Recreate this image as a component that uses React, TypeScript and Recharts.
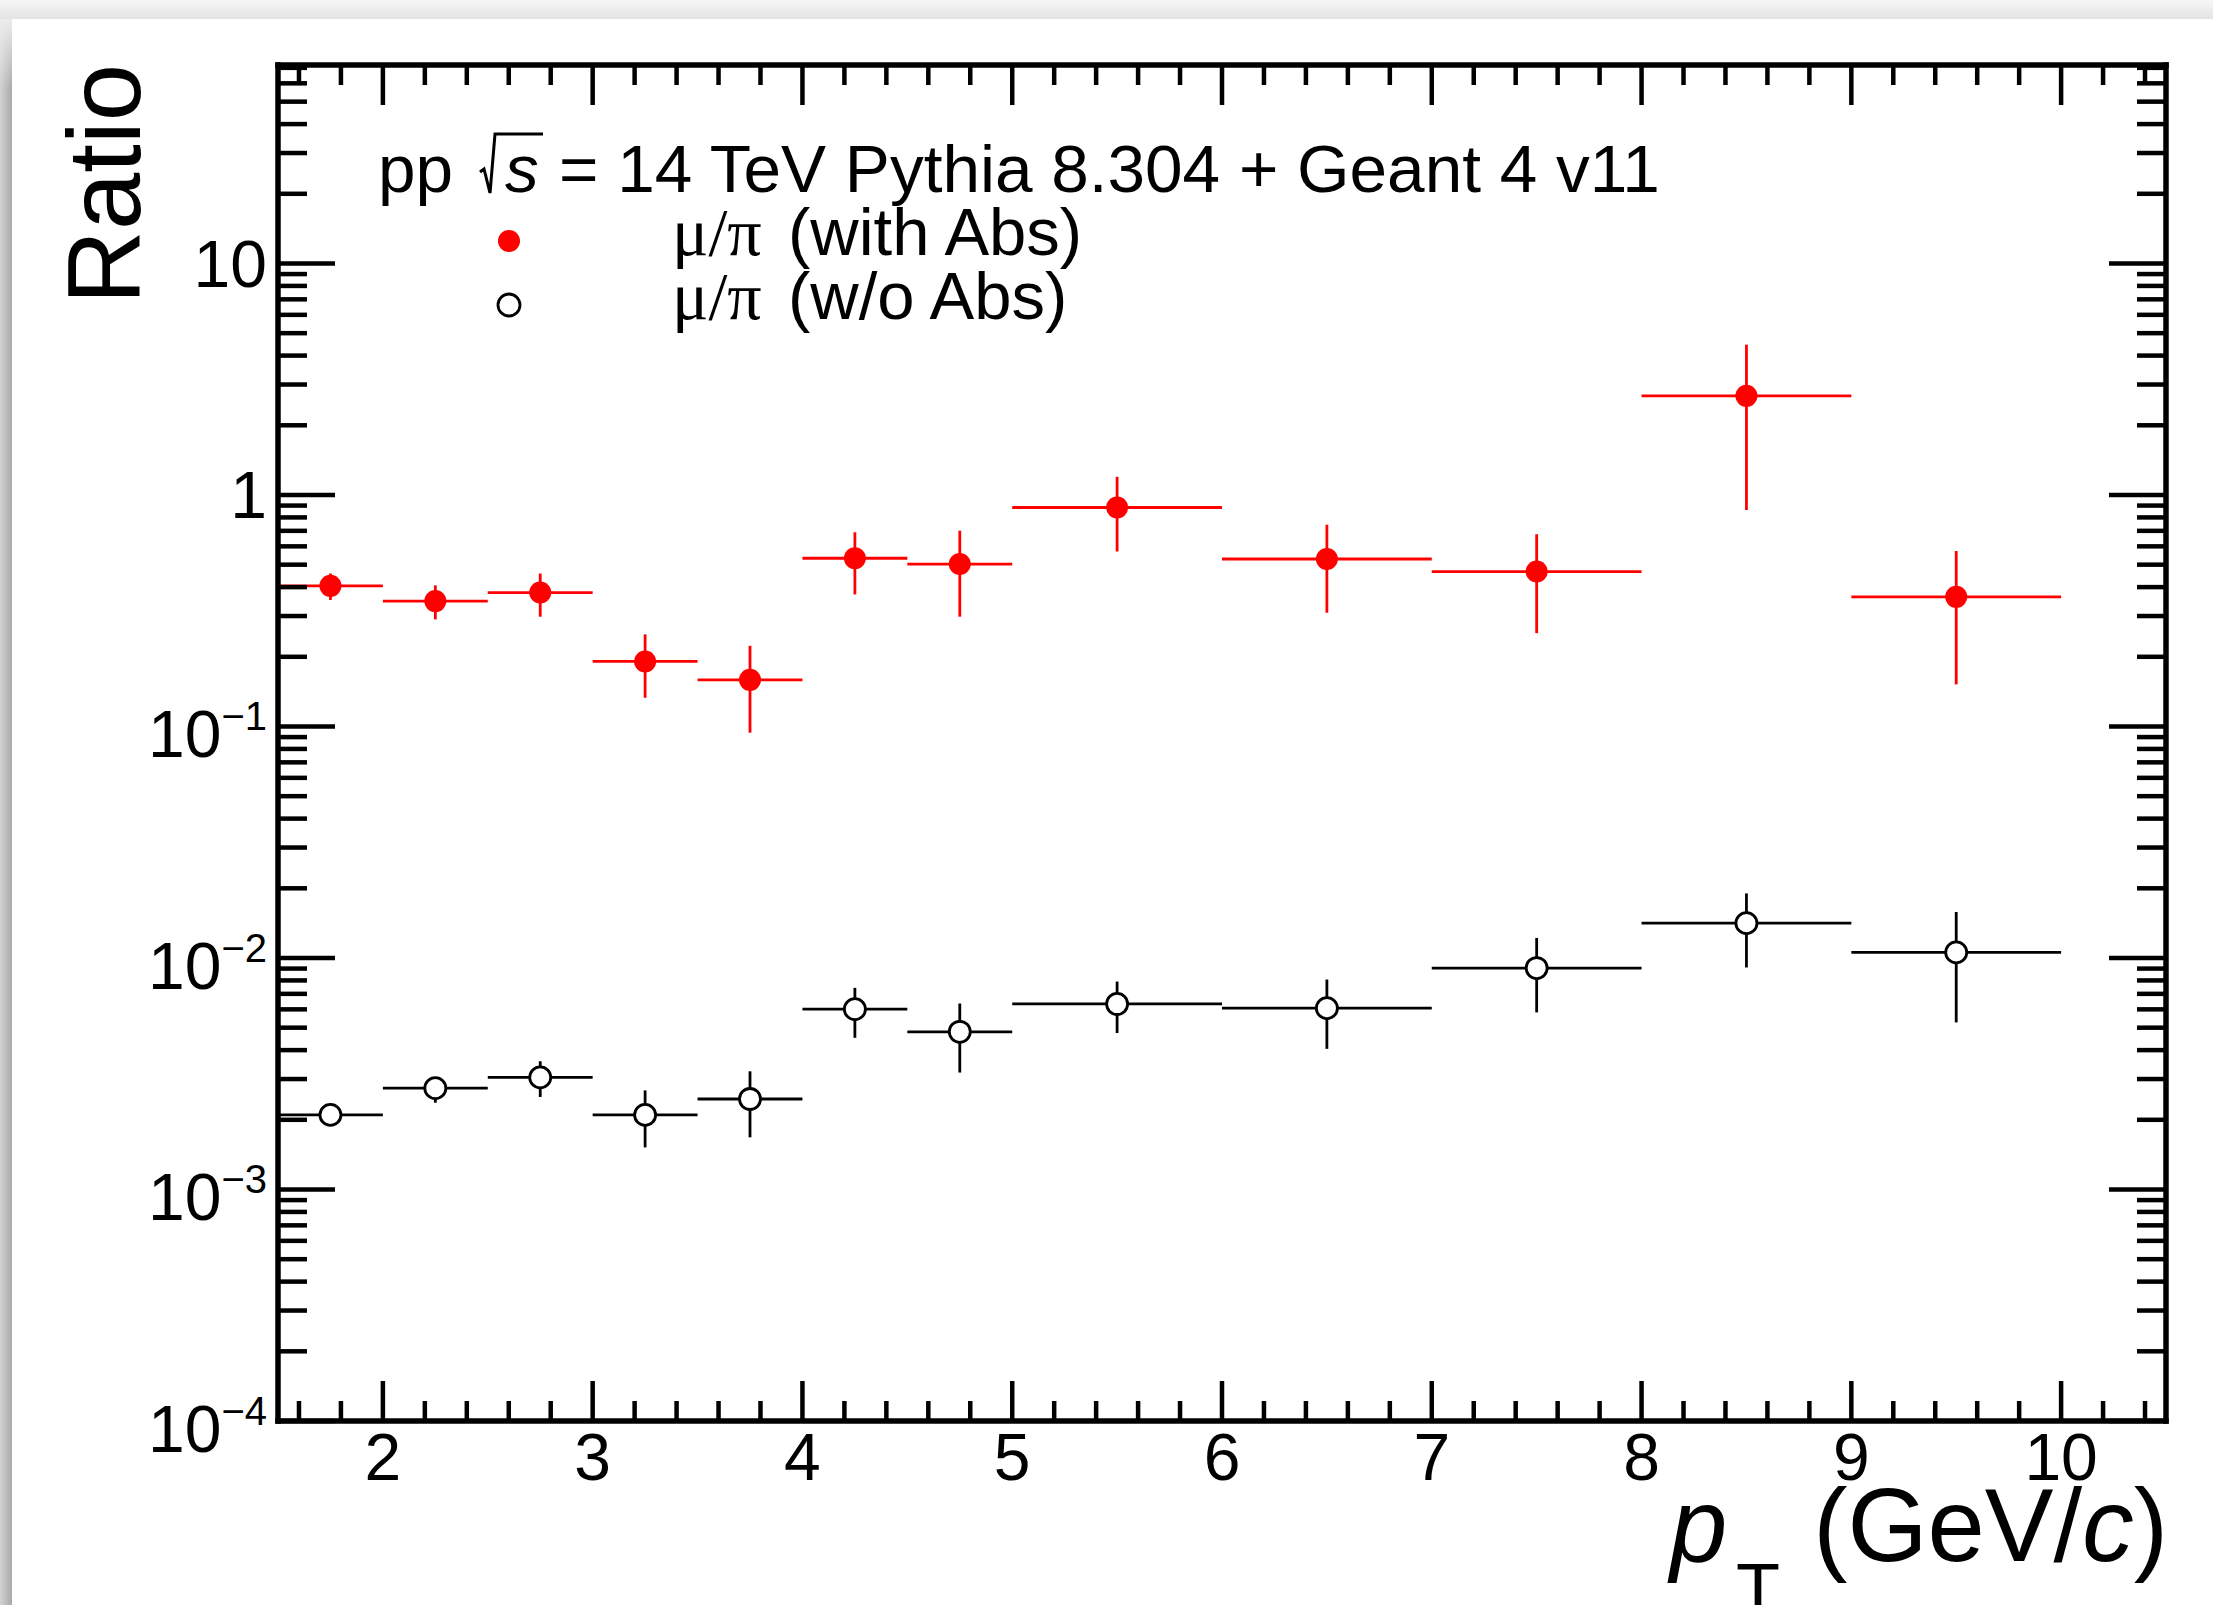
import React from 'react';
import { ComposedChart, Scatter, XAxis, YAxis, ErrorBar, Legend } from 'recharts';

// ---------------- data ----------------
const binCenters = [1.75, 2.25, 2.75, 3.25, 3.75, 4.25, 4.75, 5.5, 6.5, 7.5, 8.5, 9.5];
const binHalfWidths = [0.25, 0.25, 0.25, 0.25, 0.25, 0.25, 0.25, 0.5, 0.5, 0.5, 0.5, 0.5];

const withAbsValues = [0.405, 0.348, 0.379, 0.191, 0.159, 0.533, 0.503, 0.883, 0.529, 0.467, 2.68, 0.363];
const withAbsLow = [0.352, 0.29, 0.298, 0.133, 0.094, 0.372, 0.298, 0.57, 0.31, 0.253, 0.861, 0.152];
const withAbsHigh = [0.458, 0.407, 0.458, 0.25, 0.223, 0.69, 0.701, 1.198, 0.744, 0.677, 4.46, 0.573];

const withoutAbsValues = [0.0021, 0.00274, 0.00305, 0.0021, 0.00246, 0.00601, 0.0048, 0.00633, 0.00607, 0.00905, 0.01414, 0.01057];
const withoutAbsLow = [0.00195, 0.00237, 0.00251, 0.00152, 0.00168, 0.00452, 0.0032, 0.00474, 0.00405, 0.00582, 0.0091, 0.00527];
const withoutAbsHigh = [0.00225, 0.00304, 0.00358, 0.00268, 0.00324, 0.00743, 0.00636, 0.00791, 0.00807, 0.01221, 0.01901, 0.0158];

const seriesNames = ['μ/π (with Abs)', 'μ/π (w/o Abs)'];
const seriesColors = ['#ff0000', '#000000'];

const headerPrefix = 'pp';
const headerSqrtArg = 's';
const headerSuffix = '= 14 TeV Pythia 8.304 + Geant 4 v11';

const xTitleMain = 'p';
const xTitleSub = 'T';
const xTitleUnitA = '(GeV/';
const xTitleUnitB = 'c';
const xTitleUnitC = ')';
const yTitle = 'Ratio';

const xDomain = [1.5, 10.5];
const yDomain = [1e-4, 72];
const xMajorTicks = [2, 3, 4, 5, 6, 7, 8, 9, 10];
const yMajorTicks = [1e-4, 1e-3, 1e-2, 1e-1, 1, 10];

// ---------------- layout / style ----------------
const W = 2213;
const H = 1605;
const PLOT_LEFT = 278;
const PLOT_RIGHT = 2166;
const PLOT_TOP = 65;
const PLOT_BOTTOM = 1421;
const SANS = "'Liberation Sans', Arial, Helvetica, sans-serif";
const SERIF = "'Liberation Serif', 'Times New Roman', serif";

// minor ticks derived from the axis configuration
const xMinorTicks: number[] = [];
for (let k = 1; k <= 10; k++) {
  for (let j = 1; j <= 4; j++) {
    const v = Math.round((k + j * 0.2) * 10) / 10;
    if (v > xDomain[0] && v < xDomain[1]) xMinorTicks.push(v);
  }
}
const yMinorTicks: number[] = [];
for (let e = -4; e <= 1; e++) {
  for (let m = 2; m <= 9; m++) {
    const v = m * Math.pow(10, e);
    if (v < yDomain[1]) yMinorTicks.push(v);
  }
}
const xTicks = [...xMajorTicks, ...xMinorTicks].sort((a, b) => a - b);
const yTicks = [...yMajorTicks, ...yMinorTicks].sort((a, b) => a - b);

function buildSeries(values: number[], lows: number[], highs: number[]) {
  return binCenters.map((x, i) => ({
    x,
    y: values[i],
    ex: [binHalfWidths[i], binHalfWidths[i]],
    ey: [values[i] - lows[i], highs[i] - values[i]],
  }));
}
const withAbsData = buildSeries(withAbsValues, withAbsLow, withAbsHigh);
const withoutAbsData = buildSeries(withoutAbsValues, withoutAbsLow, withoutAbsHigh);

const isMajorX = (v: number) => Math.abs(v - Math.round(v)) < 1e-6;
const isMajorY = (v: number) => {
  const l = Math.log10(v);
  return Math.abs(l - Math.round(l)) < 1e-6;
};

const TICK_W = 4.5;

function XTickMark(props: any) {
  const { x, y, payload, side } = props;
  const v = payload.value;
  const major = isMajorX(v);
  const len = major ? 40 : 20;
  const dir = side === 'bottom' ? -1 : 1;
  return (
    <g>
      <line x1={x} y1={y} x2={x} y2={y + dir * len} stroke="#000" strokeWidth={TICK_W} />
      {side === 'bottom' && major ? (
        <text x={x} y={y + 59} textAnchor="middle" fontSize={66} fontFamily={SANS} fill="#000">
          {String(v)}
        </text>
      ) : null}
    </g>
  );
}

function YTickMark(props: any) {
  const { x, y, payload, side } = props;
  const v = payload.value;
  const major = isMajorY(v);
  const len = major ? 57 : 29;
  const dir = side === 'left' ? 1 : -1;
  let label: any = null;
  if (side === 'left' && major) {
    const e = Math.round(Math.log10(v));
    if (e === 0 || e === 1) {
      label = (
        <text x={x - 11} y={y + 23.5} textAnchor="end" fontSize={66} fontFamily={SANS} fill="#000">
          {e === 0 ? '1' : '10'}
        </text>
      );
    } else {
      label = (
        <text x={x - 11} y={y + 31} textAnchor="end" fontSize={66} fontFamily={SANS} fill="#000">
          <tspan>10</tspan>
          <tspan dy={-27} fontSize={40}>{'\u2212' + String(Math.abs(e))}</tspan>
        </text>
      );
    }
  }
  return (
    <g>
      <line x1={x} y1={y} x2={x + dir * len} y2={y} stroke="#000" strokeWidth={TICK_W} />
      {label}
    </g>
  );
}

const frameLine = { stroke: '#000', strokeWidth: 5.5, strokeLinecap: 'square' as const };

function RedDot(p: any) {
  if (p.cx == null || p.cy == null) return <g />;
  return <circle cx={p.cx} cy={p.cy} r={11} fill="#ff0000" />;
}
function OpenCircle(p: any) {
  if (p.cx == null || p.cy == null) return <g />;
  return <circle cx={p.cx} cy={p.cy} r={10.5} fill="#ffffff" stroke="#000" strokeWidth={2.8} />;
}

function LegendBox(props: any) {
  const payload: any[] = props.payload || [];
  const rowBase = [255, 319];
  const rows = seriesNames
    .map((n) => payload.find((e: any) => String(e.value) === n))
    .filter(Boolean);
  return (
    <svg width={W} height={H} style={{ display: 'block', overflow: 'visible' }}>
      {/* header */}
      <text x={378} y={192} fontSize={67.5} fontFamily={SANS} fill="#000">
        {headerPrefix}
      </text>
      <path d="M 480 172 L 484 169 L 490 193 L 495 134 L 543 134" fill="none" stroke="#000" strokeWidth={3} />
      <text x={505} y={192} fontSize={67.5} fontFamily={SANS} fontStyle="italic" fill="#000">
        {headerSqrtArg}
      </text>
      <text x={559} y={192} fontSize={67.5} fontFamily={SANS} fill="#000">
        {headerSuffix}
      </text>
      {rows.map((entry: any, i: number) => {
        const name: string = String(entry.value);
        const idx = seriesNames.indexOf(name);
        const sp = name.indexOf(' ');
        const greek = name.slice(0, sp);
        const rest = name.slice(sp + 1);
        const base = rowBase[i] ?? 255 + i * 64;
        const cy = base - 14;
        return (
          <g key={name}>
            {idx === 0 ? (
              <circle cx={509} cy={cy} r={11} fill={seriesColors[0]} />
            ) : (
              <circle cx={509} cy={cy} r={11} fill="#fff" stroke={seriesColors[1]} strokeWidth={2.8} />
            )}
            <text x={672} y={base} fontSize={68} fontFamily={SERIF} fill="#000">
              {greek}
            </text>
            <text x={788} y={base} fontSize={67} fontFamily={SANS} fill="#000">
              {rest}
            </text>
          </g>
        );
      })}
    </svg>
  );
}

function XTitle(props: any) {
  const vb = props.viewBox || { x: PLOT_LEFT, y: PLOT_BOTTOM, width: PLOT_RIGHT - PLOT_LEFT, height: 0 };
  const xEnd = vb.x + vb.width + 2;
  const base = vb.y + 140;
  return (
    <g>
      <text x={1670} y={base} fontSize={103} fontFamily={SANS} fontStyle="italic" fill="#000">
        {xTitleMain}
      </text>
      <text x={1736} y={base + 53} fontSize={72} fontFamily={SANS} fill="#000">
        {xTitleSub}
      </text>
      <text x={xEnd} y={base} textAnchor="end" fontSize={103} fontFamily={SANS} fill="#000">
        <tspan>{xTitleUnitA}</tspan>
        <tspan fontStyle="italic">{xTitleUnitB}</tspan>
        <tspan>{xTitleUnitC}</tspan>
      </text>
    </g>
  );
}

function YTitle(props: any) {
  const vb = props.viewBox || { x: PLOT_LEFT - 1, y: PLOT_TOP, width: 1, height: PLOT_BOTTOM - PLOT_TOP };
  const bx = PLOT_LEFT - 138;
  const by = vb.y - 1;
  return (
    <text
      x={bx}
      y={by}
      transform={`rotate(-90 ${bx} ${by})`}
      textAnchor="end"
      fontSize={103}
      fontFamily={SANS}
      fill="#000"
    >
      {yTitle}
    </text>
  );
}

export default function App() {
  return (
    <div style={{ position: 'absolute', left: 0, top: 0, width: W, height: H, background: '#fff', overflow: 'hidden' }}>
      <div style={{ position: 'absolute', left: 0, top: 0, width: W, height: 19, background: 'linear-gradient(to bottom, #f7f7f7, #e3e3e3)' }} />
      <div style={{ position: 'absolute', left: 0, top: 19, width: 12, height: H - 19, background: 'linear-gradient(to right, #d3d3d3, #a9a9a9)' }} />
      <div style={{ position: 'absolute', left: 0, top: 19, width: 12, height: 70, background: 'linear-gradient(to bottom, rgba(236,236,236,1), rgba(236,236,236,0))' }} />
      <div style={{ position: 'absolute', left: 0, top: 0 }}>
        <ComposedChart
          width={W}
          height={H}
          margin={{ top: PLOT_TOP - 1, left: PLOT_LEFT - 1, right: W - PLOT_RIGHT - 1, bottom: H - PLOT_BOTTOM - 1 }}
        >
          <XAxis
            xAxisId="b"
            dataKey="x"
            type="number"
            orientation="bottom"
            domain={xDomain}
            allowDataOverflow
            ticks={xTicks}
            interval={0}
            height={1}
            tickSize={0}
            tickMargin={0}
            tickLine={false}
            axisLine={frameLine}
            tick={(p: any) => <XTickMark {...p} side="bottom" />}
            label={{ content: (p: any) => <XTitle {...p} /> }}
          />
          <XAxis
            xAxisId="t"
            dataKey="x"
            type="number"
            orientation="top"
            domain={xDomain}
            allowDataOverflow
            ticks={xTicks}
            interval={0}
            height={1}
            tickSize={0}
            tickMargin={0}
            tickLine={false}
            axisLine={frameLine}
            tick={(p: any) => <XTickMark {...p} side="top" />}
          />
          <YAxis
            yAxisId="l"
            dataKey="y"
            type="number"
            scale="log"
            orientation="left"
            domain={yDomain}
            allowDataOverflow
            ticks={yTicks}
            interval={0}
            width={1}
            tickSize={0}
            tickMargin={0}
            tickLine={false}
            axisLine={frameLine}
            tick={(p: any) => <YTickMark {...p} side="left" />}
            label={{ content: (p: any) => <YTitle {...p} /> }}
          />
          <YAxis
            yAxisId="r"
            dataKey="y"
            type="number"
            scale="log"
            orientation="right"
            domain={yDomain}
            allowDataOverflow
            ticks={yTicks}
            interval={0}
            width={1}
            tickSize={0}
            tickMargin={0}
            tickLine={false}
            axisLine={frameLine}
            tick={(p: any) => <YTickMark {...p} side="right" />}
          />
          <Scatter
            name={seriesNames[0]}
            data={withAbsData}
            xAxisId="b"
            yAxisId="l"
            dataKey="y"
            fill={seriesColors[0]}
            isAnimationActive={false}
            shape={(p: any) => <RedDot {...p} />}
          >
            <ErrorBar dataKey="ex" direction="x" width={0} stroke={seriesColors[0]} strokeWidth={2.8} isAnimationActive={false} />
            <ErrorBar dataKey="ey" direction="y" width={0} stroke={seriesColors[0]} strokeWidth={2.8} isAnimationActive={false} />
          </Scatter>
          <Scatter
            name={seriesNames[1]}
            data={withoutAbsData}
            xAxisId="b"
            yAxisId="l"
            dataKey="y"
            fill={seriesColors[1]}
            isAnimationActive={false}
            shape={(p: any) => <OpenCircle {...p} />}
          >
            <ErrorBar dataKey="ex" direction="x" width={0} stroke={seriesColors[1]} strokeWidth={2.8} isAnimationActive={false} />
            <ErrorBar dataKey="ey" direction="y" width={0} stroke={seriesColors[1]} strokeWidth={2.8} isAnimationActive={false} />
          </Scatter>
          <Legend
            layout="vertical"
            align="center"
            verticalAlign="middle"
            itemSorter={null as any}
            wrapperStyle={{ left: 0, top: 0, width: W, height: H, pointerEvents: 'none' }}
            content={(p: any) => <LegendBox {...p} />}
          />
        </ComposedChart>
      </div>
    </div>
  );
}
